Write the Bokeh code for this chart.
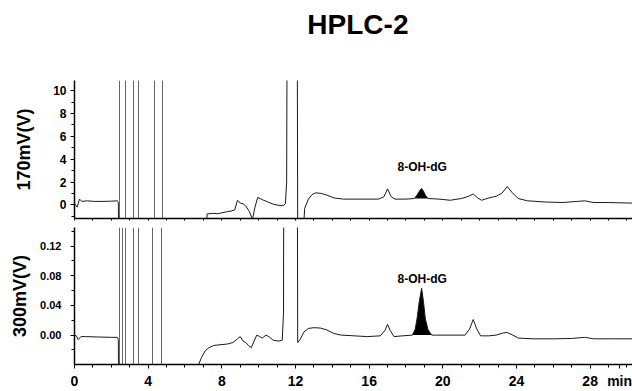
import numpy as np
from bokeh.plotting import figure
from bokeh.layouts import column
from bokeh.models import Label, SingleIntervalTicker, FixedTicker, Range1d, NumeralTickFormatter
from bokeh.embed import file_html
from bokeh.resources import INLINE

# ---------------- data ----------------
title_text = "HPLC-2"
top_label = "170mV(V)"
bottom_label = "300mV(V)"
peak_name = "8-OH-dG"
time_unit = "min"

x_major_ticks = [0, 4, 8, 12, 16, 20, 24, 28]
x_unit_tick = 29.6
x_minor_ticks = list(range(0, 31))

# 170 mV channel (V)
t_top = [0.0, 0.15, 0.27, 0.4, 0.7, 1.05, 1.6, 2.0, 2.33, 2.38, 2.40,
         7.15, 7.2, 7.5, 7.8, 8.0, 8.3, 8.5, 8.7, 8.85, 9.0, 9.15, 9.3, 9.5, 9.66,
         9.8, 9.95, 10.2, 10.5, 10.8, 11.1, 11.35, 11.45, 11.52, 11.57, 12.08, 12.12,
         12.4, 12.5, 12.7, 12.9, 13.1, 13.4, 13.7, 14.1, 14.6, 15.5, 16.5, 16.8, 17.0,
         17.2, 17.4, 18.0, 18.45, 18.6, 18.75, 18.85, 18.95, 19.05, 19.2, 19.8, 20.4,
         21.0, 21.4, 21.65, 21.9, 22.1, 22.5, 22.9, 23.2, 23.5, 23.8, 24.1, 24.6, 25.5,
         26.5, 27.3, 27.7, 28.2, 29.0, 30.3]
v_top = [0.1, -0.2, 0.5, 0.3, 0.35, 0.3, 0.3, 0.32, 0.35, 0.2, -3.0,
         -3.0, -0.8, -0.75, -0.78, -0.7, -0.6, -0.55, -0.45, 0.4, 0.15, 0.1, -0.1, -0.6, -1.3,
         -0.2, 0.65, 0.45, 0.25, 0.05, -0.05, -0.05, 0.1, 2.0, 30.0, 30.0, -3.0,
         -3.0, -0.3, 0.5, 0.9, 1.05, 1.0, 0.85, 0.6, 0.5, 0.5, 0.5, 0.7, 1.4,
         0.7, 0.5, 0.5, 0.55, 0.85, 1.25, 1.43, 1.2, 0.85, 0.55, 0.5, 0.4,
         0.55, 0.75, 0.95, 0.6, 0.4, 0.6, 0.75, 1.0, 1.6, 1.0, 0.55, 0.35, 0.25,
         0.2, 0.3, 0.35, 0.2, 0.2, 0.15]
spikes_top = [2.42, 2.78, 3.20, 3.47, 4.32, 4.77]

# 300 mV channel (V)
t_bot = [0.0, 0.1, 0.2, 0.35, 0.6, 1.2, 2.0, 2.33, 2.38, 2.40,
         6.7, 6.75, 6.9, 7.1, 7.3, 7.55, 7.9, 8.3, 8.6, 8.85, 9.0, 9.15, 9.3, 9.45,
         9.6, 9.75, 9.9, 10.05, 10.2, 10.4, 10.55, 10.8, 11.1, 11.28, 11.35, 11.38,
         12.08, 12.12, 12.25, 12.45, 12.7, 13.0, 13.35, 13.7, 14.1, 14.5, 15.2, 15.9,
         16.6, 16.85, 17.0, 17.15, 17.35, 17.8, 18.35, 18.5, 18.6, 18.72, 18.85, 18.95,
         19.05, 19.2, 19.4, 19.6, 20.5, 21.2, 21.45, 21.65, 21.85, 22.05, 22.5, 22.9,
         23.3, 23.5, 23.8, 24.1, 24.9, 26.0, 27.0, 27.7, 28.2, 29.2, 30.3]
v_bot = [0.0, -0.001, -0.006, -0.002, -0.002, -0.0025, -0.003, -0.003, -0.006, -0.1,
         -0.1, -0.039, -0.03, -0.021, -0.017, -0.014, -0.013, -0.012, -0.010, -0.005,
         -0.002, -0.008, -0.010, -0.014, -0.017, -0.008, 0.0, -0.002, -0.004, 0.0,
         -0.002, -0.007, -0.008, -0.007, 0.03, 0.5,
         0.5, -0.010, -0.006, 0.004, 0.009, 0.010, 0.0095, 0.007, 0.002, 0.0, -0.001,
         -0.002, -0.001, 0.006, 0.0145, 0.006, -0.002, -0.001, 0.0, 0.008, 0.022, 0.045,
         0.063, 0.045, 0.022, 0.007, 0.0, 0.0, 0.0, 0.0, 0.008, 0.021, 0.008, -0.001,
         -0.001, 0.0, 0.003, 0.0035, 0.0, -0.004, -0.005, -0.005, -0.0045, -0.003,
         -0.005, -0.005, -0.005]
spikes_bot = [2.42, 2.59, 2.77, 3.18, 3.47, 4.25, 4.72]

# shaded 8-OH-dG peak windows and their baselines
peak_top_window = (18.45, 19.2)
peak_top_base = 0.55
peak_bot_window = (18.35, 19.4)
peak_bot_base = 0.0

# ---------------- style ----------------
FONT = "Liberation Sans"
X_END = 30.3
INK = "#1a1a1a"
W = 632


def style_common(p):
    p.outline_line_color = None
    p.xgrid.visible = False
    p.ygrid.visible = False
    p.background_fill_color = "white"
    p.border_fill_color = "white"
    for ax in p.yaxis:
        ax.axis_line_color = "black"
        ax.axis_line_width = 1.5
        ax.major_tick_line_color = "black"
        ax.minor_tick_line_color = "black"
        ax.major_tick_in = 0
        ax.major_tick_out = 4
        ax.minor_tick_in = 0
        ax.minor_tick_out = 3
        ax.major_label_text_font = FONT
        ax.major_label_text_font_style = "bold"
        ax.major_label_text_color = "black"
        ax.axis_label_text_font = FONT
        ax.axis_label_text_font_style = "bold"
        ax.axis_label_text_font_size = "18px"
        ax.axis_label_text_color = "black"
    for ax in p.xaxis:
        ax.axis_line_color = "black"
        ax.axis_line_width = 1.5
        ax.major_tick_line_color = "black"
        ax.minor_tick_line_color = "black"
        ax.major_tick_in = 0
        ax.minor_tick_in = 0


def draw_channel(p, t, v, spikes, window, base):
    t = np.asarray(t, dtype=float)
    v = np.asarray(v, dtype=float)
    p.vspan(x=spikes, line_color="#666666", line_width=1)
    m = (t >= window[0]) & (t <= window[1])
    p.varea(x=t[m], y1=base, y2=v[m], fill_color="black")
    p.line(t, v, line_color=INK, line_width=1)


# ---------------- title strip ----------------
TITLE_H = 80
pt = figure(width=W, height=TITLE_H, x_range=Range1d(0, W), y_range=Range1d(0, TITLE_H),
            output_backend="svg", toolbar_location=None,
            min_border_left=0, min_border_right=0, min_border_top=0, min_border_bottom=0,
            x_axis_location=None, y_axis_location=None)
pt.outline_line_color = None
pt.xgrid.visible = False
pt.ygrid.visible = False
pt.add_layout(Label(x=321, y=TITLE_H - 24, text=title_text, text_font=FONT,
                    text_font_style="bold", text_font_size="28px", text_color="black",
                    text_align="center", text_baseline="middle"))

# ---------------- top panel ----------------
p1 = figure(width=W, height=138 + 4,
            x_range=Range1d(0, X_END), y_range=Range1d(-1.2, 10.9),
            output_backend="svg", toolbar_location=None,
            min_border_left=74, min_border_right=0, min_border_top=0, min_border_bottom=4)
style_common(p1)
p1.yaxis.ticker = SingleIntervalTicker(interval=2, num_minor_ticks=2)
p1.yaxis.major_label_text_font_size = "12px"
p1.yaxis.major_label_standoff = 4
p1.yaxis.axis_label = top_label
p1.yaxis.axis_label_standoff = 16
p1.xaxis.ticker = FixedTicker(ticks=[], minor_ticks=x_minor_ticks)
p1.xaxis.major_label_standoff = 0
p1.xaxis.major_tick_out = 0
p1.xaxis.minor_tick_out = 2
draw_channel(p1, t_top, v_top, spikes_top, peak_top_window, peak_top_base)
p1.add_layout(Label(x=18.88, y=3.3, text=peak_name, text_font=FONT, text_font_style="bold",
                    text_color="black", text_font_size="12px", text_align="center",
                    text_baseline="middle"))

# ---------------- bottom panel ----------------
p2 = figure(width=W, height=5 + 139 + 25,
            x_range=p1.x_range, y_range=Range1d(-0.0396, 0.145),
            output_backend="svg", toolbar_location=None,
            min_border_left=74, min_border_right=0, min_border_top=5, min_border_bottom=25)
style_common(p2)
p2.yaxis.ticker = SingleIntervalTicker(interval=0.04, num_minor_ticks=2)
p2.yaxis.formatter = NumeralTickFormatter(format="0.00")
p2.yaxis.major_label_text_font_size = "11px"
p2.yaxis.major_label_standoff = 9
p2.yaxis.axis_label = bottom_label
p2.yaxis.axis_label_standoff = 7
p2.xaxis.ticker = FixedTicker(ticks=x_major_ticks + [x_unit_tick], minor_ticks=x_minor_ticks)
p2.xaxis.major_label_overrides = {x_unit_tick: time_unit}
p2.xaxis.major_tick_out = 4
p2.xaxis.minor_tick_out = 3
p2.xaxis.major_label_standoff = 4
p2.xaxis.major_label_text_font = FONT
p2.xaxis.major_label_text_font_style = "bold"
p2.xaxis.major_label_text_font_size = "14px"
p2.xaxis.major_label_text_color = "black"
draw_channel(p2, t_bot, v_bot, spikes_bot, peak_bot_window, peak_bot_base)
p2.add_layout(Label(x=18.88, y=0.075, text=peak_name, text_font=FONT, text_font_style="bold",
                    text_color="black", text_font_size="12px", text_align="center",
                    text_baseline="middle"))

layout = column(pt, p1, p2, spacing=0)
open("out.html", "w").write(file_html(layout, INLINE))
